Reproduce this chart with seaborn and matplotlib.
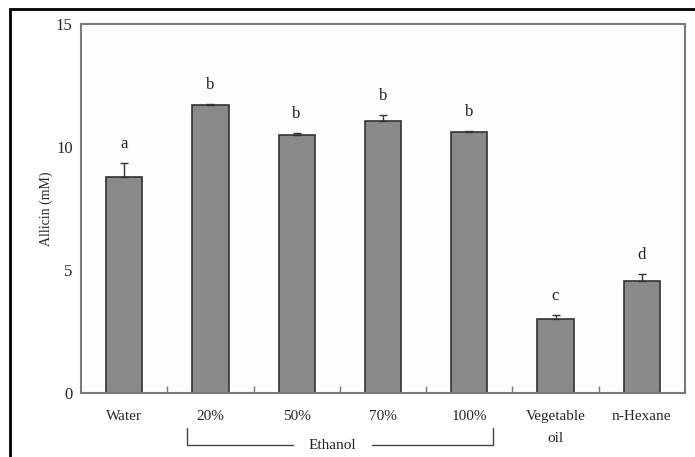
"""
Allicin yield by extraction solvent: bar chart with upper error bars,
significance letters and an "Ethanol" bracket under the ethanol columns.
"""

import matplotlib.pyplot as plt
import pandas as pd
import seaborn as sns
from matplotlib.patches import Rectangle

SOLVENTS = ["Water", "20%", "50%", "70%", "100%", "Vegetable\noil", "n-Hexane"]
ALLICIN = [8.8, 11.7, 10.5, 11.05, 10.6, 3.0, 4.57]
ALLICIN_SD = [0.55, 0.05, 0.07, 0.25, 0.06, 0.18, 0.27]
GROUP_LETTERS = ["a", "b", "b", "b", "b", "c", "d"]
Y_TICKS = [0, 5, 10, 15]

FONT = ["Liberation Serif", "DejaVu Serif"]


def main():
    sns.set_theme(style="white")
    plt.rcParams["font.family"] = FONT

    df = pd.DataFrame({"solvent": SOLVENTS, "allicin": ALLICIN, "sd": ALLICIN_SD})

    fig = plt.figure(figsize=(6.95, 4.57), dpi=100)
    ax = fig.add_axes([0.1165, 0.140, 0.869, 0.8075])

    sns.barplot(data=df, x="solvent", y="allicin", color="#8a8a8a",
                edgecolor="#333333", linewidth=1.2, width=0.42,
                saturation=1, errorbar=None, ax=ax)

    # upper error bars only
    xs = range(len(SOLVENTS))
    ax.errorbar(xs, df["allicin"], yerr=[[0] * len(SOLVENTS), df["sd"]],
                fmt="none", ecolor="#333333", elinewidth=1.0, capsize=3, capthick=1.0)

    for x, (v, e, letter) in enumerate(zip(ALLICIN, ALLICIN_SD, GROUP_LETTERS)):
        ax.annotate(letter, (x, v + e), xytext=(0, 8), textcoords="offset points",
                    ha="center", va="bottom", fontsize=12, color="#222222")

    ax.set_xlim(-0.5, len(SOLVENTS) - 0.5)
    ax.set_ylim(0, 15)
    ax.set_yticks(Y_TICKS)
    ax.set_xlabel("")
    ax.set_ylabel("Allicin (mM)", fontsize=10, labelpad=2)
    ax.set_facecolor("#fdfdfd")

    ax.tick_params(axis="y", direction="in", length=5, width=1, color="#777777",
                   labelsize=12, pad=6)
    ax.tick_params(axis="x", which="major", length=0, labelsize=11, pad=12)
    for lbl in ax.get_xticklabels():
        lbl.set_linespacing(1.9)
    ax.set_xticks([i + 0.5 for i in range(len(SOLVENTS) - 1)], minor=True)
    ax.tick_params(axis="x", which="minor", direction="in", length=5, width=1,
                   color="#777777", bottom=True)

    for side in ["left", "right", "top", "bottom"]:
        ax.spines[side].set_visible(True)
        ax.spines[side].set_color("#7a7a7a")
        ax.spines[side].set_linewidth(1.5)

    # Ethanol bracket below the 20%..100% labels
    trans = ax.get_xaxis_transform()
    left, right, y_top, y_bot = 0.73, 4.27, -0.095, -0.141
    ax.plot([left, left, 1.96], [y_top, y_bot, y_bot], color="#444444", lw=1,
            transform=trans, clip_on=False)
    ax.plot([2.87, right, right], [y_bot, y_bot, y_top], color="#444444", lw=1,
            transform=trans, clip_on=False)
    ax.text(2.41, y_bot, "Ethanol", transform=trans, ha="center", va="center",
            fontsize=11, color="#222222")

    # outer frame of the figure
    fig.patches.append(Rectangle((10 / 695, -0.02), 1.0, 0.02 + (457 - 9) / 457,
                                 transform=fig.transFigure, fill=False,
                                 edgecolor="black", linewidth=2))

    fig.savefig("out.png", dpi=100)
    plt.close(fig)


if __name__ == "__main__":
    main()
